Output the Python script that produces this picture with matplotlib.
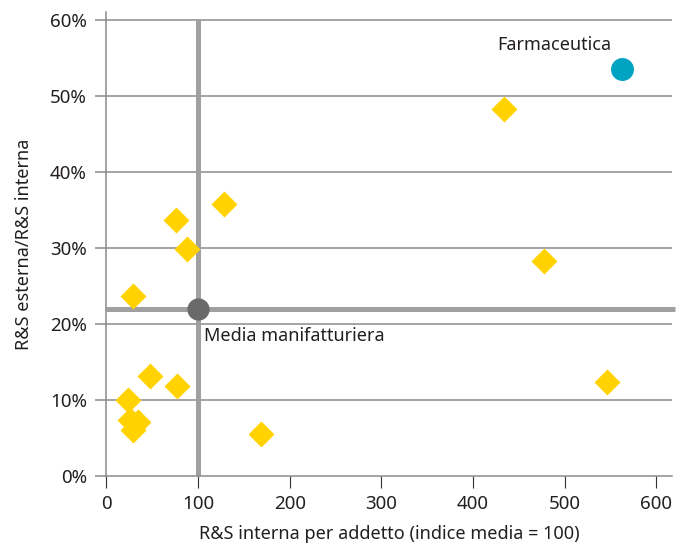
import matplotlib.pyplot as plt
from matplotlib.ticker import FuncFormatter

plt.rcParams['font.family'] = ['Noto Sans', 'DejaVu Sans']

# settori: R&S interna per addetto (indice) vs R&S esterna / R&S interna (%)
x_settori = [434, 478, 546, 76, 128, 88, 29, 48, 77, 24, 26, 34, 29, 169]
y_settori = [48.2, 28.3, 12.3, 33.6, 35.7, 29.8, 23.7, 13.2, 11.8, 10.0, 7.4, 7.1, 6.0, 5.5]

x_farma, y_farma = 563, 53.5
x_media, y_media = 100, 22.0

yticks = [0, 10, 20, 30, 40, 50, 60]
xticks = [0, 100, 200, 300, 400, 500, 600]

grid_col = '#8a8a8a'
thick_col = '#a0a0a0'
text_col = '#231f20'

fig = plt.figure(figsize=(6.85, 5.47), dpi=100)
ax = fig.add_axes([0.1553, 0.1298, 0.8253, 0.8483])

ax.set_xlim(0, 617)
ax.set_ylim(0, 61)

for y in yticks[1:]:
    ax.axhline(y, color=grid_col, lw=1.1, zorder=1)

# linee della media manifatturiera
ax.plot([x_media, x_media], [0, 60], color=thick_col, lw=3.6, zorder=2,
        solid_capstyle='butt')
ax.plot([0, 621], [y_media, y_media], color=thick_col, lw=3.6, zorder=2,
        solid_capstyle='butt', clip_on=False)

ax.plot(x_settori, y_settori, 'D', ms=13.2, color='#ffd200', mec='none', zorder=3)
ax.plot(x_farma, y_farma, 'o', ms=16.5, color='#00a3c1', mec='none', zorder=3)
ax.plot(x_media, y_media, 'o', ms=16, color='#6a6a6a', mec='none', zorder=4)

ax.text(551, 56.6, 'Farmaceutica', ha='right', va='center',
        fontsize=13, color=text_col)
ax.text(x_media + 7, 18.4, 'Media manifatturiera', ha='left', va='center',
        fontsize=13, color=text_col)

ax.set_xticks(xticks)
ax.set_yticks(yticks)
ax.yaxis.set_major_formatter(FuncFormatter(lambda v, p: f'{v:.0f}%'))

for s in ['top', 'right']:
    ax.spines[s].set_visible(False)
ax.spines['left'].set_color(grid_col)
ax.spines['left'].set_linewidth(1.1)
ax.spines['bottom'].set_color(grid_col)
ax.spines['bottom'].set_linewidth(1.1)
ax.spines['bottom'].set_zorder(5)

ax.tick_params(axis='y', length=8, width=1.1, color=grid_col, pad=6,
               labelsize=13.5, labelcolor=text_col)
ax.tick_params(axis='x', length=8.5, width=0.8, color='#333333', pad=5,
               labelsize=13.5, labelcolor=text_col)

ax.set_xlabel('R&S interna per addetto (indice media = 100)', fontsize=13,
              color=text_col, labelpad=9)
ax.set_ylabel('R&S esterna/R&S interna', fontsize=13, color=text_col,
              labelpad=12)

plt.savefig('out.png', dpi=100)
